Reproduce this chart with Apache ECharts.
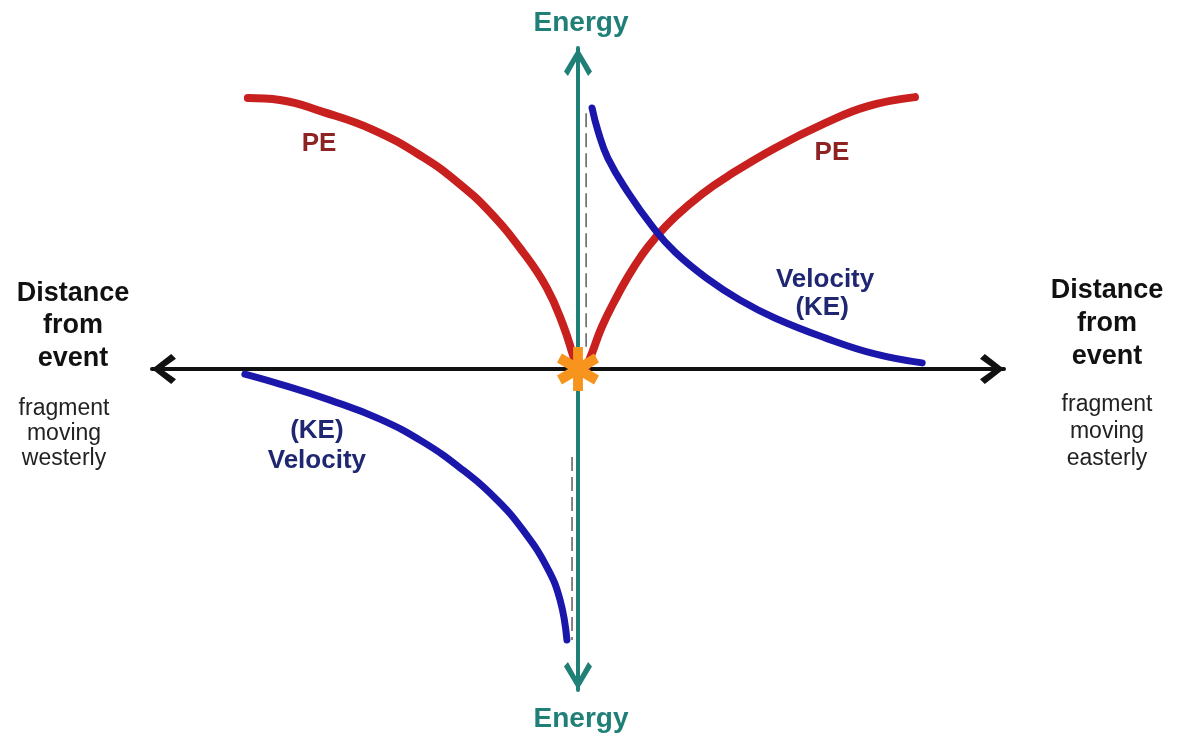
<!DOCTYPE html>
<html>
<head>
<meta charset="utf-8">
<title>Energy vs distance from event</title>
<script src="https://cdn.jsdelivr.net/npm/echarts@6/dist/echarts.min.js"></script>
<style>
  html, body { margin: 0; padding: 0; background: #fff; }
  #chart { width: 1178px; height: 734px; }
</style>
</head>
<body>
<div id="chart"></div>
<script>
// curve points (x = distance, y = energy)
const peWestX = [-7.75, -7.0, -5.99, -4.81, -3.64, -2.84, -2.07, -1.29, -0.73, -0.35, -0.12, -0.05];
const peWestY = [8.44, 8.38, 8.01, 7.45, 6.6, 5.83, 4.89, 3.64, 2.52, 1.37, 0.44, 0.09];

const peEastX = [0.19, 0.33, 0.56, 0.87, 1.17, 1.5, 1.81, 2.28, 2.91, 3.52, 4.62, 5.8, 6.81, 7.91];
const peEastY = [0.03, 0.5, 1.31, 2.15, 2.87, 3.55, 4.08, 4.74, 5.45, 6.01, 6.88, 7.66, 8.19, 8.47];

const keEastX = [0.33, 0.47, 0.7, 1.17, 1.74, 2.28, 3.05, 3.8, 4.62, 5.8, 6.97, 8.08];
const keEastY = [8.13, 7.41, 6.57, 5.51, 4.45, 3.64, 2.8, 2.15, 1.59, 0.97, 0.47, 0.19];

const keWestX = [-7.82, -7.0, -5.82, -4.65, -3.64, -2.7, -1.9, -1.29, -0.73, -0.42, -0.26];
const keWestY = [-0.16, -0.47, -0.97, -1.56, -2.27, -3.15, -4.08, -5.02, -6.17, -7.2, -8.44];

// thin dashed drop lines next to the energy axis
const dropEastX = [0.19, 0.19];
const dropEastY = [7.97, 0.69];
const dropWestX = [-0.14, -0.14];
const dropWestY = [-2.74, -8.44];

// curve labels
const peLabelX = [-6.08, 5.96];
const peLabelY = [7.01, 6.73];
const peLabelText = ['PE', 'PE'];
const keLabelX = [5.8, 5.73, -6.13, -6.13];
const keLabelY = [2.77, 1.9, -1.93, -2.87];
const keLabelText = ['Velocity', '(KE)', '(KE)', 'Velocity'];

const eventPoint = [[0, 0]];

const RED = '#c8201e';
const BLUE = '#1c17ab';
const TEAL = '#208078';

const zip = (xs, ys) => xs.map((x, i) => [x, ys[i]]);
const zipText = (xs, ys, ts) => xs.map((x, i) => [x, ys[i], ts[i]]);

// 6-armed asterisk as a symbol path
function asteriskPath() {
  const c = 20, L = 20, w = 4.6;
  let d = '';
  [90, 30, 150].forEach((deg) => {
    const a = deg * Math.PI / 180;
    const dx = Math.cos(a), dy = Math.sin(a);
    const nx = -dy, ny = dx;
    const p = [
      [c + L * dx + w * nx, c + L * dy + w * ny],
      [c + L * dx - w * nx, c + L * dy - w * ny],
      [c - L * dx - w * nx, c - L * dy - w * ny],
      [c - L * dx + w * nx, c - L * dy + w * ny],
    ];
    d += 'M' + p.map((q) => q[0].toFixed(2) + ',' + q[1].toFixed(2)).join(' L') + ' Z ';
  });
  return 'path://' + d;
}

const chevronWide = 'path://M50,0 L100,64 L84,80 L50,32 L16,80 L0,64 Z';
const chevronSquare = 'path://M50,0 L100,84 L86,100 L50,36 L14,100 L0,84 Z';

const FONT = "'Liberation Sans', Arial, Helvetica, sans-serif";

const chart = echarts.init(document.getElementById('chart'));

function curve(name, data, color, width) {
  return {
    name: name,
    type: 'line',
    data: data,
    smooth: 0.45,
    showSymbol: false,
    silent: true,
    z: 3,
    lineStyle: { color: color, width: width, cap: 'round', join: 'round' },
  };
}

function labels(data, color) {
  return {
    type: 'scatter',
    data: data,
    symbolSize: 1,
    itemStyle: { color: 'rgba(0,0,0,0)', opacity: 1 },
    silent: true,
    z: 5,
    label: {
      show: true,
      position: 'inside',
      formatter: (p) => p.data[2],
      fontFamily: FONT,
      fontWeight: 'bold',
      fontSize: 26,
      color: color,
    },
  };
}

const option = {
  animation: false,
  backgroundColor: '#fff',
  grid: { left: 152, right: 174, top: 48, bottom: 44 },
  xAxis: {
    type: 'value',
    min: -10,
    max: 10,
    axisLine: {
      onZero: true,
      lineStyle: { color: '#111', width: 4 },
      symbol: [chevronWide, chevronWide],
      symbolSize: [30, 24],
      symbolOffset: [12, -12],
    },
    axisTick: { show: false },
    axisLabel: { show: false },
    splitLine: { show: false },
  },
  yAxis: {
    type: 'value',
    min: -10,
    max: 10,
    axisLine: {
      show: true,
      onZero: true,
      lineStyle: { color: TEAL, width: 4 },
      symbol: [chevronSquare, chevronSquare],
      symbolSize: [28, 28],
      symbolOffset: [14, -14],
    },
    axisTick: { show: false },
    axisLabel: { show: false },
    splitLine: { show: false },
  },
  graphic: [
    {
      type: 'text', x: 581, y: 23, z: 10,
      style: { text: 'Energy', fill: TEAL, font: 'bold 28px ' + FONT, align: 'center', verticalAlign: 'middle' },
    },
    {
      type: 'text', x: 581, y: 719, z: 10,
      style: { text: 'Energy', fill: TEAL, font: 'bold 28px ' + FONT, align: 'center', verticalAlign: 'middle' },
    },
    {
      type: 'text', x: 73, y: 326, z: 10,
      style: {
        text: 'Distance\nfrom\nevent', fill: '#111', font: 'bold 27px ' + FONT,
        align: 'center', verticalAlign: 'middle', lineHeight: 32.5,
      },
    },
    {
      type: 'text', x: 64, y: 434, z: 10,
      style: {
        text: 'fragment\nmoving\nwesterly', fill: '#222', font: '23px ' + FONT,
        align: 'center', verticalAlign: 'middle', lineHeight: 25,
      },
    },
    {
      type: 'text', x: 1107, y: 324, z: 10,
      style: {
        text: 'Distance\nfrom\nevent', fill: '#111', font: 'bold 27px ' + FONT,
        align: 'center', verticalAlign: 'middle', lineHeight: 33,
      },
    },
    {
      type: 'text', x: 1107, y: 432, z: 10,
      style: {
        text: 'fragment\nmoving\neasterly', fill: '#222', font: '23px ' + FONT,
        align: 'center', verticalAlign: 'middle', lineHeight: 27,
      },
    },
  ],
  series: [
    {
      type: 'line',
      data: zip(dropEastX, dropEastY),
      showSymbol: false,
      silent: true,
      z: 2,
      lineStyle: { color: '#444', width: 1.3, type: [14, 6] },
    },
    {
      type: 'line',
      data: zip(dropWestX, dropWestY),
      showSymbol: false,
      silent: true,
      z: 2,
      lineStyle: { color: '#444', width: 1.3, type: [14, 6] },
    },
    curve('PE west', zip(peWestX, peWestY), RED, 8),
    curve('PE east', zip(peEastX, peEastY), RED, 8),
    curve('KE east', zip(keEastX, keEastY), BLUE, 7),
    curve('KE west', zip(keWestX, keWestY), BLUE, 7),
    labels(zipText(peLabelX, peLabelY, peLabelText), '#8e2323'),
    labels(zipText(keLabelX, keLabelY, keLabelText), '#1f2773'),
    {
      type: 'scatter',
      data: eventPoint,
      symbol: asteriskPath(),
      symbolSize: [42, 44],
      silent: true,
      z: 6,
      itemStyle: { color: '#f7941d', opacity: 1 },
    },
  ],
};

chart.setOption(option);
</script>
</body>
</html>
